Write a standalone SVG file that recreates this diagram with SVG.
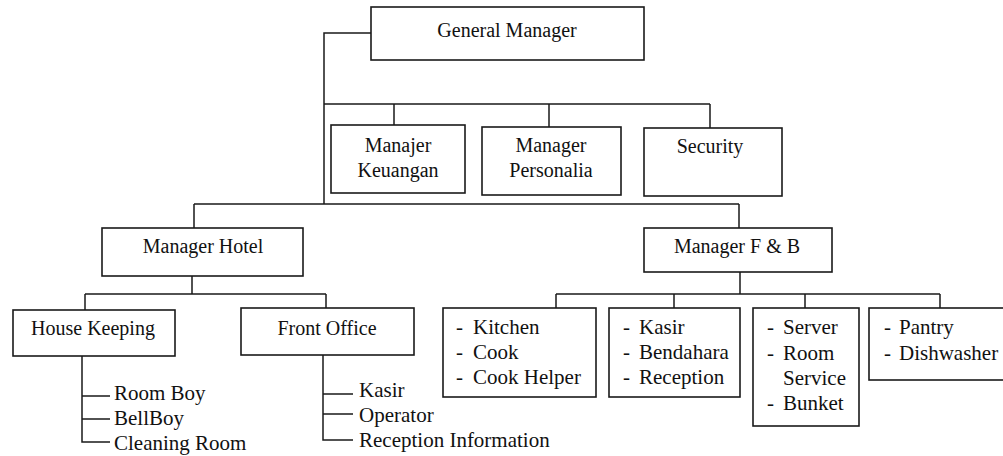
<svg xmlns="http://www.w3.org/2000/svg" width="1003" height="456" viewBox="0 0 1003 456">
<style>
.box{fill:#fff;stroke:#1a1a1a;stroke-width:1.6}
.ln{fill:none;stroke:#1a1a1a;stroke-width:1.5}
text{font-family:'Liberation Serif','DejaVu Serif',serif;fill:#111}
.t{font-size:20px;text-anchor:middle}
.l{font-size:21px}
</style>
<rect width="1003" height="456" fill="#fff"/>
<g id="connectors">
<path class="ln" d="M371,33 H324 V204"/>
<path class="ln" d="M324,104 H710 M394,104 V125 M549,104 V127 M710,104 V128"/>
<path class="ln" d="M194,204 H739 M194,204 V228 M739,204 V228"/>
<path class="ln" d="M192,276 V294 M85,294 H326 M85,294 V310 M326,294 V308"/>
<path class="ln" d="M740,272 V294 M556,294 H940 M556,294 V308 M674,294 V308 M805,294 V308 M940,294 V308"/>
<path class="ln" d="M82,356 V442 H110 M82,396 H110 M82,419 H110"/>
<path class="ln" d="M323,355 V440 H353 M323,394 H353 M323,414 H353"/>
</g>
<g id="general-manager"><rect class="box" x="371" y="7" width="273" height="53"/><text class="t" x="507" y="37">General Manager</text></g>
<g id="manajer-keuangan"><rect class="box" x="331" y="125" width="134" height="68"/><text class="t" x="398" y="152">Manajer</text><text class="t" x="398" y="177">Keuangan</text></g>
<g id="manager-personalia"><rect class="box" x="482" y="127" width="139" height="68"/><text class="t" x="551" y="152">Manager</text><text class="t" x="551" y="177">Personalia</text></g>
<g id="security"><rect class="box" x="644" y="128" width="138" height="68"/><text class="t" x="710" y="153">Security</text></g>
<g id="manager-hotel"><rect class="box" x="102" y="228" width="201" height="48"/><text class="t" x="203" y="253">Manager Hotel</text></g>
<g id="manager-fb"><rect class="box" x="644" y="228" width="188" height="44"/><text class="t" x="737" y="253">Manager F &amp; B</text></g>
<g id="house-keeping"><rect class="box" x="13" y="310" width="162" height="46"/><text class="t" x="93" y="335">House Keeping</text>
<text class="l" x="114" y="400">Room Boy</text><text class="l" x="114" y="425">BellBoy</text><text class="l" x="114" y="450">Cleaning Room</text></g>
<g id="front-office"><rect class="box" x="241" y="308" width="173" height="47"/><text class="t" x="327" y="335">Front Office</text>
<text class="l" x="359" y="397">Kasir</text><text class="l" x="359" y="422">Operator</text><text class="l" x="359" y="447">Reception Information</text></g>
<g id="kitchen"><rect class="box" x="443" y="308" width="153" height="89"/>
<text class="l" x="456" y="334">-</text><text class="l" x="473" y="334">Kitchen</text>
<text class="l" x="456" y="359">-</text><text class="l" x="473" y="359">Cook</text>
<text class="l" x="456" y="384">-</text><text class="l" x="473" y="384">Cook Helper</text></g>
<g id="kasir"><rect class="box" x="609" y="308" width="131" height="89"/>
<text class="l" x="623" y="334">-</text><text class="l" x="639" y="334">Kasir</text>
<text class="l" x="623" y="359">-</text><text class="l" x="639" y="359">Bendahara</text>
<text class="l" x="623" y="384">-</text><text class="l" x="639" y="384">Reception</text></g>
<g id="server"><rect class="box" x="753" y="308" width="106" height="118"/>
<text class="l" x="767" y="334">-</text><text class="l" x="783" y="334">Server</text>
<text class="l" x="767" y="360">-</text><text class="l" x="783" y="360">Room</text>
<text class="l" x="783" y="385">Service</text>
<text class="l" x="767" y="410">-</text><text class="l" x="783" y="410">Bunket</text></g>
<g id="pantry"><rect class="box" x="869" y="308" width="145" height="72"/>
<text class="l" x="884" y="334">-</text><text class="l" x="899" y="334">Pantry</text>
<text class="l" x="884" y="360">-</text><text class="l" x="899" y="360">Dishwasher</text></g>
</svg>
